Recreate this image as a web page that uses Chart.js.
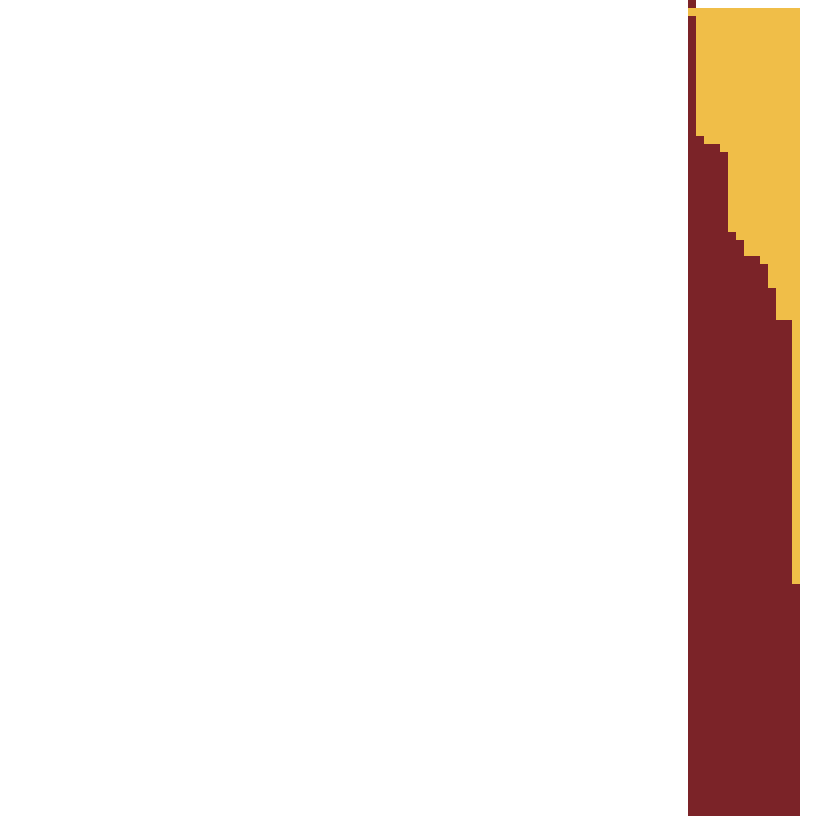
<!DOCTYPE html>
<html>
<head>
<meta charset="utf-8">
<script src="https://cdn.jsdelivr.net/npm/chart.js@4"></script>
<style>
html,body{margin:0;padding:0;background:#ffffff;}
#wrap{width:816px;height:816px;}
canvas{display:block;}
</style>
</head>
<body>
<div id="wrap"><canvas id="c" width="816" height="816"></canvas></div>
<script>
// column numbers (1-based, along the horizontal axis)
const columns  = [87, 88, 89, 90, 91, 92, 93, 94, 95, 96, 97, 98, 99, 100];
// stacked series values
const lowerRed = [100, 85, 84, 84, 83, 73, 72, 70, 70, 69, 66, 62, 62, 29];
const yellow   = [1, 16, 17, 17, 18, 28, 29, 31, 31, 32, 35, 39, 39, 72];
const upperRed = [1, 0, 0, 0, 0, 0, 0, 0, 0, 0, 0, 0, 0, 0];

const X_MAX = 102;
const Y_MAX = 102;
const RED = '#7b2328';
const YEL = '#f0be48';

function pts(vals) {
  return columns.map((c, i) => ({ x: c - 0.5, y: vals[i] }));
}

const common = {
  borderWidth: 0,
  inflateAmount: 0,
  barPercentage: 1,
  categoryPercentage: 1,
  borderSkipped: false
};

new Chart(document.getElementById('c'), {
  type: 'bar',
  data: {
    datasets: [
      Object.assign({ label: 'lower', data: pts(lowerRed), backgroundColor: RED }, common),
      Object.assign({ label: 'middle', data: pts(yellow), backgroundColor: YEL }, common),
      Object.assign({ label: 'upper', data: pts(upperRed), backgroundColor: RED }, common)
    ]
  },
  options: {
    responsive: false,
    animation: false,
    layout: { padding: 0 },
    plugins: { legend: { display: false }, tooltip: { enabled: false }, title: { display: false } },
    scales: {
      x: { type: 'linear', min: 0, max: X_MAX, stacked: true, display: false, offset: false },
      y: { min: 0, max: Y_MAX, stacked: true, display: false }
    }
  }
});
</script>
</body>
</html>
